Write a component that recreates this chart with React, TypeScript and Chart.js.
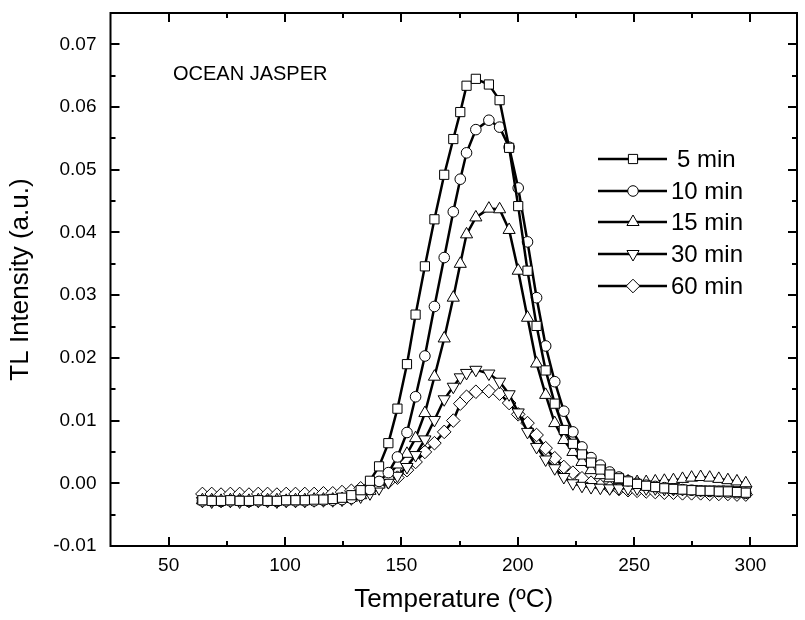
import React, { useEffect, useRef } from 'react';
import { Chart, registerables } from 'chart.js';

Chart.register(...registerables);

const FONT = '"Liberation Sans", Arial, Helvetica, sans-serif';

// Temperature (°C) of the sampled points (shared by all five series)
const temps = [
  64.5, 68.5, 72.5, 76.5, 80.5, 84.5, 88.5, 92.5, 96.5, 100.5, 104.5, 108.5, 112.5, 116.5, 120.5, 124.5, 128.5, 132.5,
  136.5, 140.4, 144.4, 148.3, 152.4, 156.1, 160.1, 164.2, 168.4, 172.3,
  175.3, 178.0, 182.0, 187.6, 192.2, 196.3, 200.2, 204.2, 208.1, 212.0,
  215.9, 219.8, 223.7, 227.6, 231.5, 235.5, 239.5, 243.5,
  247.4, 251.3, 255.2, 259.1, 263.0, 266.9, 270.8, 274.7, 278.6, 282.5, 286.4, 290.3, 294.2, 298.0,
];

const min5 = [
  -0.0027, -0.0028, -0.0028, -0.0027, -0.0028, -0.0028, -0.0027, -0.0028, -0.0028, -0.0027, -0.0027, -0.0027, -0.0026, -0.0026, -0.0025,
  -0.0023, -0.0019, -0.0011,
  0.0004, 0.0027, 0.0064, 0.0119, 0.0190, 0.0269, 0.0346, 0.0421, 0.0492, 0.0549,
  0.0592, 0.0634, 0.0645, 0.0636, 0.0611, 0.0535, 0.0442, 0.0339, 0.0251, 0.0180,
  0.0127, 0.0085, 0.0063, 0.0046, 0.0033, 0.0022, 0.0014, 0.0008,
  0.0003, -0.0001, -0.0004, -0.0006, -0.0008, -0.0009, -0.0010, -0.0011, -0.0012, -0.0012, -0.0013, -0.0013, -0.0014, -0.0015,
];

const min10 = [
  -0.0028, -0.0028, -0.0029, -0.0028, -0.0028, -0.0029, -0.0028, -0.0028, -0.0029, -0.0028, -0.0028, -0.0028, -0.0028, -0.0027, -0.0027, -0.0026,
  -0.0024, -0.0019,
  -0.0010, 0.0003, 0.0017, 0.0042, 0.0081, 0.0138, 0.0203, 0.0282, 0.0360, 0.0433,
  0.0485, 0.0527, 0.0564, 0.0579, 0.0568, 0.0536, 0.0471, 0.0385, 0.0296, 0.0219,
  0.0162, 0.0115, 0.0082, 0.0058, 0.0041, 0.0029, 0.0018, 0.0010,
  0.0004, 0.0000, -0.0003, -0.0005, -0.0007, -0.0009, -0.0010, -0.0011, -0.0012, -0.0013, -0.0013, -0.0014, -0.0015, -0.0016,
];

const min15 = [
  -0.0027, -0.0027, -0.0028, -0.0027, -0.0027, -0.0028, -0.0027, -0.0027, -0.0027, -0.0028, -0.0027, -0.0027, -0.0026, -0.0026, -0.0026, -0.0025, -0.0023,
  -0.0019,
  -0.0012, -0.0002, 0.0012, 0.0030, 0.0047, 0.0072, 0.0112, 0.0170, 0.0231, 0.0296,
  0.0350, 0.0397, 0.0424, 0.0438, 0.0437, 0.0404, 0.0339, 0.0264, 0.0191, 0.0141,
  0.0096, 0.0069, 0.0050, 0.0034, 0.0021, 0.0013, 0.0008, 0.0005,
  0.0003, 0.0002, 0.0002, 0.0003, 0.0004, 0.0005, 0.0007, 0.0009, 0.0010, 0.0009, 0.0007, 0.0005, 0.0003, 0.0000,
];

const min30 = [
  -0.0028, -0.0029, -0.0028, -0.0028, -0.0029, -0.0028, -0.0028, -0.0028, -0.0029, -0.0028, -0.0028, -0.0028, -0.0027, -0.0027, -0.0027, -0.0026, -0.0024,
  -0.0021,
  -0.0016, -0.0008, 0.0002, 0.0012, 0.0026, 0.0045, 0.0070, 0.0101, 0.0134, 0.0154,
  0.0169, 0.0176, 0.0181, 0.0175, 0.0162, 0.0142, 0.0113, 0.0082, 0.0058, 0.0038,
  0.0024, 0.0010, 0.0000, -0.0004, -0.0006, -0.0007, -0.0008, -0.0008,
  -0.0008, -0.0008, -0.0008, -0.0008, -0.0009, -0.0009, -0.0009, -0.0009, -0.0010, -0.0010, -0.0010, -0.0010, -0.0011, -0.0011,
];

const min60 = [
  -0.0017, -0.0017, -0.0018, -0.0017, -0.0017, -0.0018, -0.0017, -0.0017, -0.0018, -0.0017, -0.0017, -0.0017, -0.0017, -0.0016,
  -0.0016, -0.0014, -0.0012, -0.0008,
  -0.0005, -0.0002, 0.0002, 0.0009, 0.0021, 0.0034, 0.0050, 0.0064, 0.0082, 0.0100,
  0.0127, 0.0138, 0.0146, 0.0147, 0.0143, 0.0128, 0.0110, 0.0096, 0.0077, 0.0056,
  0.0040, 0.0026, 0.0017, 0.0008, 0.0001, -0.0004, -0.0007, -0.0009,
  -0.0011, -0.0012, -0.0013, -0.0014, -0.0015, -0.0015, -0.0016, -0.0016, -0.0016, -0.0017, -0.0017, -0.0017, -0.0018, -0.0018,
];

const seriesLabels = ['5 min', '10 min', '15 min', '30 min', '60 min'];
const seriesValues = [min5, min10, min15, min30, min60];
const markerStyles = ['rect', 'circle', 'triangle', 'triangleDown', 'rectRot'];
const markerRadius = [6.5, 5.3, 7, 7, 6.8];

const xTicks = [50, 100, 150, 200, 250, 300];
const yTicks = [-0.01, 0.0, 0.01, 0.02, 0.03, 0.04, 0.05, 0.06, 0.07];
const xMinor = [75, 125, 175, 225, 275];
const yMinor = [-0.005, 0.005, 0.015, 0.025, 0.035, 0.045, 0.055, 0.065];

const X_MIN = 25;
const X_MAX = 320;
const Y_MIN = -0.01;
const Y_MAX = 0.075;

const annotationText = 'OCEAN JASPER';
const xTitle = 'Temperature (ºC)';
const yTitle = 'TL Intensity (a.u.)';

function drawMarker(ctx: CanvasRenderingContext2D, style: string, x: number, y: number, r: number) {
  ctx.beginPath();
  if (style === 'circle') {
    ctx.arc(x, y, r, 0, Math.PI * 2);
  } else if (style === 'rect') {
    const s = Math.SQRT1_2 * r;
    ctx.rect(x - s, y - s, 2 * s, 2 * s);
  } else if (style === 'rectRot') {
    ctx.moveTo(x, y - r);
    ctx.lineTo(x + r, y);
    ctx.lineTo(x, y + r);
    ctx.lineTo(x - r, y);
    ctx.closePath();
  } else if (style === 'triangle' || style === 'triangleDown') {
    const sgn = style === 'triangle' ? 1 : -1;
    const a = (2 * Math.PI) / 3;
    for (let i = 0; i < 3; i++) {
      const ang = i * a;
      const px = x + Math.sin(ang) * r;
      const py = y - sgn * Math.cos(ang) * r;
      if (i === 0) ctx.moveTo(px, py);
      else ctx.lineTo(px, py);
    }
    ctx.closePath();
  }
  ctx.fillStyle = '#fff';
  ctx.fill();
  ctx.lineWidth = 1;
  ctx.strokeStyle = '#000';
  ctx.stroke();
}

const framePlugin = {
  id: 'originFrame',
  afterDraw(chart: any) {
    const { ctx, chartArea, scales } = chart;
    const { left, right, top, bottom } = chartArea;
    ctx.save();
    ctx.strokeStyle = '#000';
    ctx.lineWidth = 2;
    ctx.strokeRect(left, top, right - left, bottom - top);
    const major = 9;
    const minor = 5;
    const xs = scales.x;
    const ys = scales.y;
    const tickX = (v: number, len: number) => {
      const px = Math.round(xs.getPixelForValue(v));
      ctx.beginPath();
      ctx.moveTo(px, bottom);
      ctx.lineTo(px, bottom - len);
      ctx.moveTo(px, top);
      ctx.lineTo(px, top + len);
      ctx.stroke();
    };
    const tickY = (v: number, len: number) => {
      const py = Math.round(ys.getPixelForValue(v));
      ctx.beginPath();
      ctx.moveTo(left, py);
      ctx.lineTo(left + len, py);
      ctx.moveTo(right, py);
      ctx.lineTo(right - len, py);
      ctx.stroke();
    };
    xTicks.forEach((v) => tickX(v, major));
    xMinor.forEach((v) => tickX(v, minor));
    yTicks.forEach((v) => tickY(v, major));
    yMinor.forEach((v) => tickY(v, minor));

    // annotation
    ctx.fillStyle = '#000';
    ctx.font = `20px ${FONT}`;
    ctx.textAlign = 'left';
    ctx.textBaseline = 'middle';
    ctx.fillText(annotationText, 173, 74);

    // legend
    const rowY = [159, 191, 222, 254, 286];
    seriesLabels.forEach((lab, i) => {
      const yy = rowY[i];
      ctx.beginPath();
      ctx.lineWidth = 2.5;
      ctx.strokeStyle = '#000';
      ctx.moveTo(598, yy);
      ctx.lineTo(667, yy);
      ctx.stroke();
      drawMarker(ctx, markerStyles[i], 633, yy, markerRadius[i]);
      ctx.fillStyle = '#000';
      ctx.font = `24px ${FONT}`;
      ctx.textAlign = 'left';
      ctx.textBaseline = 'middle';
      ctx.fillText(lab, i === 0 ? 677 : 671, yy + 1);
    });
    ctx.restore();
  },
};

export default function App() {
  const canvasRef = useRef<HTMLCanvasElement | null>(null);

  useEffect(() => {
    if (!canvasRef.current) return;
    const datasets = seriesLabels.map((lab, i) => {
      const st = markerStyles[i];
      return {
        label: lab,
        data: temps.map((t, k) => ({ x: t, y: seriesValues[i][k] })),
        borderColor: '#000',
        borderWidth: 2.5,
        pointStyle: st === 'triangleDown' ? 'triangle' : st,
        rotation: st === 'triangleDown' ? 180 : 0,
        pointRotation: st === 'triangleDown' ? 180 : 0,
        pointRadius: markerRadius[i],
        pointBackgroundColor: '#fff',
        pointBorderColor: '#000',
        pointBorderWidth: 1,
        tension: 0,
        fill: false,
      };
    });

    const chart = new Chart(canvasRef.current, {
      type: 'line',
      data: { datasets: datasets as any },
      options: {
        animation: false,
        responsive: false,
        maintainAspectRatio: false,
        devicePixelRatio: 1,
        layout: { padding: { top: 13, right: -3, left: 0, bottom: 0 } },
        plugins: {
          legend: { display: false },
          tooltip: { enabled: false },
        },
        scales: {
          x: {
            type: 'linear',
            min: X_MIN,
            max: X_MAX,
            grid: { display: false, drawTicks: false },
            border: { display: false },
            afterBuildTicks: (s: any) => {
              s.ticks = xTicks.map((v) => ({ value: v }));
            },
            afterFit: (s: any) => {
              s.height = 74;
              s.paddingLeft = 0;
              s.paddingRight = 0;
              s.paddingTop = 0;
              s.paddingBottom = 0;
            },
            ticks: {
              color: '#000',
              padding: 8,
              font: { family: FONT, size: 19 },
              callback: (v: any) => String(v),
            },
            title: {
              display: true,
              text: xTitle,
              color: '#000',
              font: { family: FONT, size: 26 },
              padding: { top: 0, bottom: 5 },
            },
          },
          y: {
            type: 'linear',
            min: Y_MIN,
            max: Y_MAX,
            grid: { display: false, drawTicks: false },
            border: { display: false },
            afterBuildTicks: (s: any) => {
              s.ticks = yTicks.map((v) => ({ value: v }));
            },
            afterFit: (s: any) => {
              s.width = 110.5;
              s.paddingLeft = 0;
              s.paddingRight = 0;
              s.paddingTop = 0;
              s.paddingBottom = 0;
            },
            ticks: {
              color: '#000',
              padding: 14,
              font: { family: FONT, size: 19 },
              callback: (v: any) => Number(v).toFixed(2),
            },
            title: {
              display: true,
              text: yTitle,
              color: '#000',
              font: { family: FONT, size: 26 },
              padding: { top: 5, bottom: 0 },
            },
          },
        },
      },
      plugins: [framePlugin],
    });
    return () => chart.destroy();
  }, []);

  return (
    <div style={{ position: 'fixed', left: 0, top: 0, width: 805, height: 620, background: '#fff' }}>
      <canvas ref={canvasRef} width={805} height={620} style={{ width: 805, height: 620, display: 'block' }} />
    </div>
  );
}
